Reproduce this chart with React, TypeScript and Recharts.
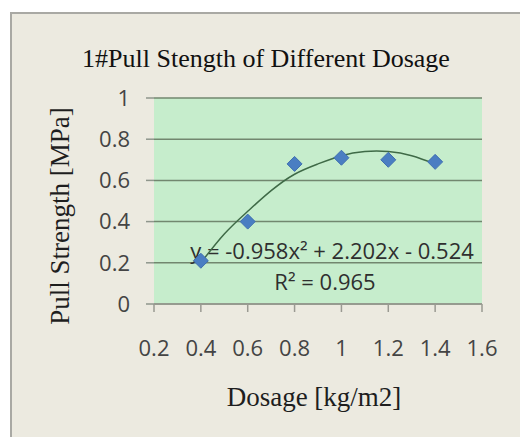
import React from "react";
import { ComposedChart, Scatter, Line, XAxis, YAxis, CartesianGrid } from "recharts";

// measured points
const dosage = [0.4, 0.6, 0.8, 1.0, 1.2, 1.4];
const strength = [0.21, 0.4, 0.68, 0.71, 0.7, 0.69];

// trendline
const trendX = [0.4, 0.5, 0.6, 0.7, 0.8, 0.9, 1.0, 1.1, 1.2, 1.3, 1.4];
const trendY = [0.2, 0.34, 0.45, 0.55, 0.63, 0.68, 0.72, 0.74, 0.74, 0.72, 0.68];

const xTicks = [0.2, 0.4, 0.6, 0.8, 1, 1.2, 1.4, 1.6];
const yTicks = [0, 0.2, 0.4, 0.6, 0.8, 1];

const title = "1#Pull Stength of Different Dosage";
const xTitle = "Dosage [kg/m2]";
const yTitle = "Pull Strength [MPa]";
const equation = "y = -0.958x² + 2.202x - 0.524";
const rSquared = "R² = 0.965";

const points = dosage.map((x, i) => ({ x, y: strength[i] }));
const trend = trendX.map((x, i) => ({ x, t: trendY[i] }));

const serif = "'Liberation Serif', 'DejaVu Serif', serif";
const sans = "'Open Sans', 'Noto Sans', sans-serif";

const Diamond = (p: any) => {
  const { cx, cy } = p;
  const r = 7.5;
  return (
    <polygon
      points={`${cx},${cy - r} ${cx + r},${cy} ${cx},${cy + r} ${cx - r},${cy}`}
      fill="#4a7ec2"
      stroke="#3f6fb0"
      strokeWidth={1}
    />
  );
};

export default function App() {
  return (
    <div style={{ position: "fixed", left: 0, top: 0, width: 521, height: 437, background: "#fff" }}>
      <div
        style={{
          position: "absolute",
          left: 10,
          top: 12,
          width: 510,
          height: 425,
          background: "#ECEAE0",
          borderLeft: "2px solid #a9a9a4",
          borderTop: "2px solid #a9a9a4",
          boxSizing: "border-box",
        }}
      >
        <ComposedChart
          width={508}
          height={423}
          margin={{ top: 84, right: 38, bottom: 0, left: 0 }}
          style={{ position: "absolute", left: 0, top: 0 }}
        >
          <CartesianGrid
            horizontal
            vertical={false}
            fill="#C6EDCC"
            fillOpacity={1}
            stroke="#72876f"
            strokeWidth={1.5}
          />
          <XAxis
            type="number"
            dataKey="x"
            domain={[0.2, 1.6]}
            ticks={xTicks}
            height={133}
            interval={0}
            axisLine={{ stroke: "#9a9a92", strokeWidth: 1.5 }}
            tickLine={{ stroke: "#9a9a92", strokeWidth: 1.5 }}
            tickSize={8}
            tickMargin={28}
            tick={{ fontSize: 22, fill: "#444", fontFamily: sans }}
            label={{
              content: () => (
                <text x={302} y={392} textAnchor="middle" fontFamily={serif} fontSize={27} fill="#1e1e1e">
                  {xTitle}
                </text>
              ),
            }}
          />
          <YAxis
            type="number"
            domain={[0, 1]}
            ticks={yTicks}
            width={142}
            interval={0}
            axisLine={false}
            tickLine={{ stroke: "#8f968c", strokeWidth: 1.5 }}
            tickSize={8}
            tickMargin={16}
            tick={{ fontSize: 22, fill: "#444", fontFamily: sans }}
            label={{
              content: () => (
                <text
                  x={57}
                  y={202}
                  textAnchor="middle"
                  transform="rotate(-90, 57, 202)"
                  fontFamily={serif}
                  fontSize={27}
                  fill="#1e1e1e"
                >
                  {yTitle}
                </text>
              ),
            }}
          />
          <Line
            data={trend}
            dataKey="t"
            type="natural"
            stroke="#3f6a47"
            strokeWidth={1.5}
            dot={false}
            activeDot={false}
            isAnimationActive={false}
          />
          <Scatter data={points} dataKey="y" shape={Diamond} isAnimationActive={false} />
          <text x={254} y={53} textAnchor="middle" fontFamily={serif} fontSize={26} fill="#111">
            {title}
          </text>
          <text x={320} y={245} textAnchor="middle" fontFamily={sans} fontSize={22} fill="#2f2f2f">
            {equation}
          </text>
          <text x={313} y={276} textAnchor="middle" fontFamily={sans} fontSize={22} fill="#2f2f2f">
            {rSquared}
          </text>
        </ComposedChart>
      </div>
    </div>
  );
}
